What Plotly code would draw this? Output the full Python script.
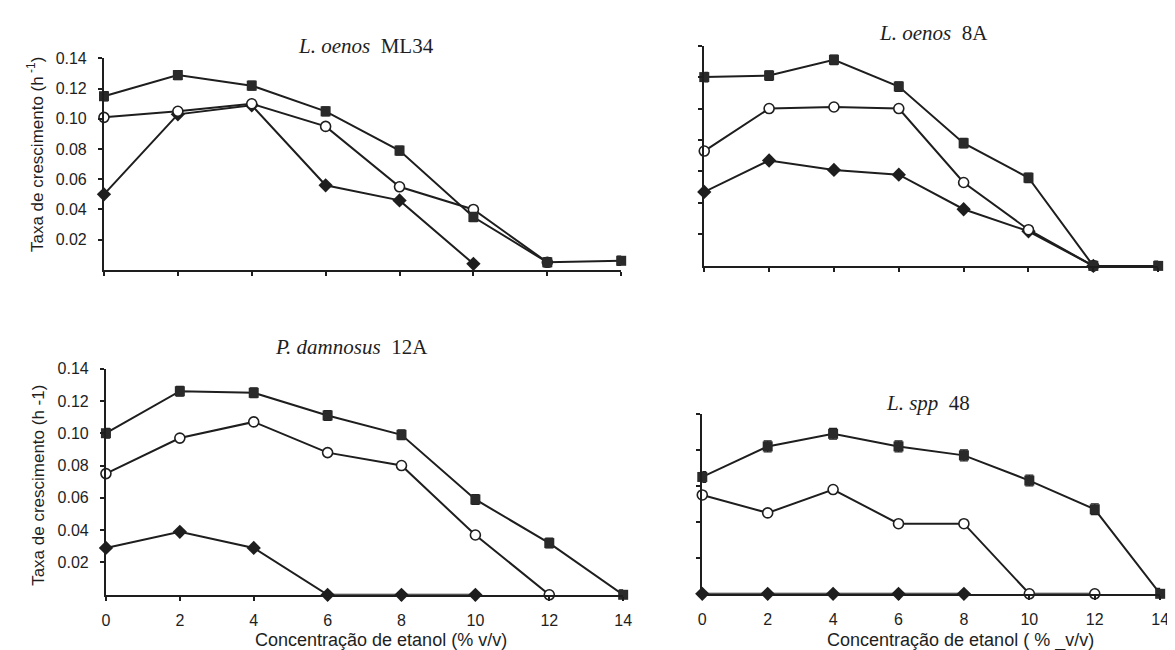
import plotly.graph_objects as go

W, H = 1175, 650

conc = [0, 2, 4, 6, 8, 10, 12, 14]
x_tick_labels = ["0", "2", "4", "6", "8", "10", "12", "14"]
y_tick_vals = [0.02, 0.04, 0.06, 0.08, 0.10, 0.12, 0.14]
y_tick_labels = ["0.02", "0.04", "0.06", "0.08", "0.10", "0.12", "0.14"]

# Panel 1: L. oenos ML34
ml34_square = [0.115, 0.129, 0.122, 0.105, 0.079, 0.035, 0.005, 0.006]
ml34_open = [0.101, 0.105, 0.110, 0.095, 0.055, 0.040, 0.005]
ml34_filled = [0.050, 0.103, 0.109, 0.056, 0.046, 0.004]

# Panel 2: L. oenos 8A
a8_square = [0.120, 0.121, 0.131, 0.114, 0.078, 0.056, 0.0, 0.0]
a8_open = [0.073, 0.100, 0.101, 0.100, 0.053, 0.023, 0.0]
a8_filled = [0.047, 0.067, 0.061, 0.058, 0.036, 0.022, 0.0]

# Panel 3: P. damnosus 12A
p12_square = [0.100, 0.126, 0.125, 0.111, 0.099, 0.059, 0.032, 0.0]
p12_open = [0.075, 0.097, 0.107, 0.088, 0.080, 0.037, 0.0]
p12_filled = [0.029, 0.039, 0.029, 0.0, 0.0, 0.0]

# Panel 4: L. spp 48
s48_square = [0.065, 0.082, 0.089, 0.082, 0.077, 0.063, 0.047, 0.0]
s48_open = [0.055, 0.045, 0.058, 0.039, 0.039, 0.0, 0.0]
s48_filled = [0.0, 0.0, 0.0, 0.0, 0.0]

titles = ["<i>L. oenos</i>  ML34", "<i>L. oenos</i>  8A",
          "<i>P. damnosus</i>  12A", "<i>L. spp</i>  48"]
ytitle_top = "Taxa de crescimento (h<sup> -1</sup>)"
ytitle_bottom = "Taxa de crescimento (h -1)"
xtitle_left = "Concentração de etanol (% v/v)"
xtitle_right = "Concentração de etanol ( % _v/v)"

# panel geometry in pixels: (x0, x14, y_zero, y_top, ymax)
panels = [
    (93, 616, 257, 43, 0.14),
    (700, 1159, 253, 30, 0.14),
    (95, 618, 586, 357, 0.14),
    (698, 1161, 585, 403, 0.10),
]

data = [
    (ml34_square, ml34_open, ml34_filled),
    (a8_square, a8_open, a8_filled),
    (p12_square, p12_open, p12_filled),
    (s48_square, s48_open, s48_filled),
]

fig = go.Figure()
ink = "#1e1e1e"
for i, (sq, op, fi) in enumerate(data):
    xa = "x" if i == 0 else f"x{i+1}"
    ya = "y" if i == 0 else f"y{i+1}"
    common = dict(xaxis=xa, yaxis=ya, mode="lines+markers", showlegend=False,
                  cliponaxis=False, line=dict(color=ink, width=2))
    fig.add_trace(go.Scatter(x=conc[:len(fi)], y=fi,
                             marker=dict(symbol="diamond", size=11, color=ink), **common))
    fig.add_trace(go.Scatter(x=conc[:len(op)], y=op,
                             marker=dict(symbol="circle", size=10, color="white",
                                         line=dict(color=ink, width=1.6)),
                             error_y=dict(type="constant", value=0.002, color=ink,
                                          thickness=1.2, width=0), **common))
    fig.add_trace(go.Scatter(x=conc[:len(sq)], y=sq,
                             marker=dict(symbol="square", size=10, color="#2a2a2a"),
                             error_y=dict(type="constant", value=0.003, color=ink,
                                          thickness=1.3, width=4), **common))

sans = "Liberation Sans, Arial"
layout = dict(width=W, height=H, margin=dict(l=0, r=0, t=0, b=0),
              paper_bgcolor="white", plot_bgcolor="white",
              font=dict(family=sans, color=ink))

for i, (x0, x14, yz, yt, ymax) in enumerate(panels):
    sfx = "" if i == 0 else str(i + 1)
    bottom = i >= 2
    labelled_y = i in (0, 2)
    layout["xaxis" + sfx] = dict(
        domain=[x0 / W, x14 / W], range=[0, 14], anchor="y" + sfx,
        showgrid=False, zeroline=False, showline=True, linecolor=ink, linewidth=2,
        tickmode="array", tickvals=conc, ticktext=x_tick_labels,
        ticks="outside", ticklen=4, tickwidth=1.5, tickcolor=ink,
        ticklabelstandoff=6,
        showticklabels=bottom, tickfont=dict(size=16, color=ink, family=sans),
    )
    tv = [v for v in y_tick_vals if v <= ymax + 1e-9]
    layout["yaxis" + sfx] = dict(
        domain=[1 - yz / H, 1 - yt / H], range=[0, ymax], anchor="x" + sfx,
        showgrid=False, zeroline=False, showline=True, linecolor=ink, linewidth=2,
        tickmode="array", tickvals=tv, ticktext=y_tick_labels[:len(tv)],
        ticks="outside", ticklen=4, tickwidth=1.5, tickcolor=ink,
        ticklabelstandoff=8,
        showticklabels=labelled_y, tickfont=dict(size=16, color=ink, family=sans),
    )

fig.update_layout(**layout)

serif = "Liberation Serif, Times New Roman"
title_pos = [(358, 30), (932, 17), (343, 335), (926, 392)]
for t, (px, py) in zip(titles, title_pos):
    fig.add_annotation(text=t, x=px / W, y=1 - py / H, xref="paper", yref="paper",
                       showarrow=False, xanchor="center", yanchor="middle",
                       font=dict(family=serif, size=21, color=ink))

fig.add_annotation(text=ytitle_top, x=24 / W, y=1 - 140 / H, xref="paper", yref="paper",
                   showarrow=False, textangle=-90, xanchor="center", yanchor="middle",
                   font=dict(size=17, color=ink))
fig.add_annotation(text=ytitle_bottom, x=26 / W, y=1 - 475 / H, xref="paper", yref="paper",
                   showarrow=False, textangle=-90, xanchor="center", yanchor="middle",
                   font=dict(size=17, color=ink))
fig.add_annotation(text=xtitle_left, x=373 / W, y=1 - 632 / H, xref="paper", yref="paper",
                   showarrow=False, xanchor="center", yanchor="middle",
                   font=dict(size=18, color=ink))
fig.add_annotation(text=xtitle_right, x=959 / W, y=1 - 632 / H, xref="paper", yref="paper",
                   showarrow=False, xanchor="center", yanchor="middle",
                   font=dict(size=18, color=ink))

fig.write_html("out.html")
